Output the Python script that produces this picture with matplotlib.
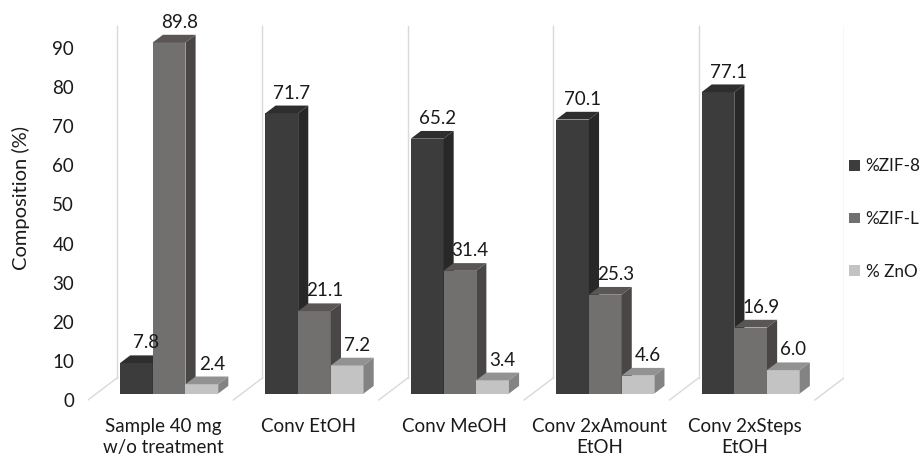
import matplotlib.pyplot as plt
from matplotlib.patches import Polygon, Patch

plt.rcParams['font.family'] = ['Lato', 'DejaVu Sans']

categories = ['Sample 40 mg\nw/o treatment', 'Conv EtOH', 'Conv MeOH',
              'Conv 2xAmount\nEtOH', 'Conv 2xSteps\nEtOH']
series = ['%ZIF-8', '%ZIF-L', '% ZnO']
zif8 = [7.8, 71.7, 65.2, 70.1, 77.1]
zifl = [89.8, 21.1, 31.4, 25.3, 16.9]
zno = [2.4, 7.2, 3.4, 4.6, 6.0]
yticks = [0, 10, 20, 30, 40, 50, 60, 70, 80, 90]

# face colours per series: front, top, side
front_c = ['#3c3c3c', '#726f6f', '#c3c3c3']
top_c = ['#2e2e2e', '#5a5656', '#929292']
side_c = ['#282828', '#4a4646', '#838383']

# fake depth: z=0 front of floor, z=1 back wall
kx, ky = 0.1995, 5.63
z0, dz = 0.29, 0.35
w = 0.225
txt = '#1a1a1a'
fs = 13.5

fig = plt.figure(figsize=(9.21, 4.57), dpi=100)
ax = fig.add_axes([88/921, (457-411.7)/457, 756/921, 402.7/457])
ax.set_xlim(-0.5, 4.7)
ax.set_ylim(-3, 100)
for s in ax.spines.values():
    s.set_visible(False)
ax.set_xticks([])
ax.set_yticks(yticks)
ax.tick_params(axis='y', length=0, pad=10, labelsize=fs, labelcolor=txt)
ax.set_ylabel('Composition (%)', fontsize=14.5, color=txt)
ax.yaxis.set_label_coords(-0.077, 0.53)

# walls between the groups and floor edges
for i in range(len(categories) + 1):
    xb = i - 0.5
    ax.plot([xb, xb + kx], [0, ky], color='#d9d9d9', lw=1, zorder=1)
    ax.plot([xb + kx, xb + kx], [ky, 90 + ky], color='#d9d9d9', lw=1, zorder=1)

data = [zif8, zifl, zno]
for i in range(len(categories)):
    for j, vals in enumerate(data):
        v = vals[i]
        xl = i + kx*z0 - 1.5*w + j*w
        yb = ky*z0
        yt = v + yb
        ddx, ddy = kx*dz, ky*dz
        ax.bar(xl, v, width=w, bottom=yb, align='edge', color=front_c[j],
               linewidth=0, zorder=3+j)
        ax.add_patch(Polygon([(xl, yt), (xl+w, yt), (xl+w+ddx, yt+ddy), (xl+ddx, yt+ddy)],
                             closed=True, fc=top_c[j], lw=0, zorder=3+j))
        ax.add_patch(Polygon([(xl+w, yb), (xl+w, yt), (xl+w+ddx, yt+ddy), (xl+w+ddx, yb+ddy)],
                             closed=True, fc=side_c[j], lw=0, zorder=3+j))
        ax.annotate(f'{v:.1f}', (xl + w/2 + ddx, yt + ddy), xytext=(0, 5),
                    textcoords='offset points', ha='center', va='baseline',
                    fontsize=fs, color=txt, zorder=10)

for i, c in enumerate(categories):
    ax.text(i + 0.02, -4.5, c, ha='center', va='top', fontsize=fs, color=txt,
            linespacing=1.3, clip_on=False)

handles = [Patch(fc=front_c[j], ec='none') for j in range(3)]
fig.legend(handles, series, loc='center left', bbox_to_anchor=(846/921, 1 - 219/457),
           frameon=False, fontsize=12.3, labelspacing=2.15, handlelength=0.6,
           handleheight=0.6, handletextpad=0.35, labelcolor=txt,
           borderaxespad=0, borderpad=0.2)

fig.savefig('out.png', dpi=100)
